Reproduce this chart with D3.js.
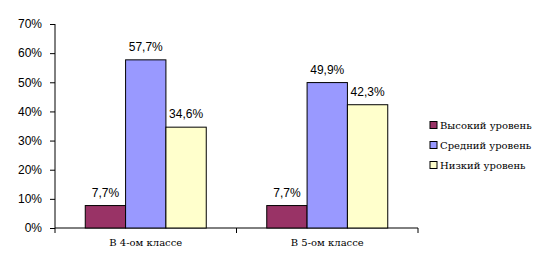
<!DOCTYPE html>
<html>
<head>
<meta charset="utf-8">
<script src="https://cdn.jsdelivr.net/npm/d3@7"></script>
<style>
  body { margin: 0; background: #fff; }
  svg { display: block; }
</style>
</head>
<body>
<svg id="main"></svg>
<script>
const width = 558
const height = 270

const categories = ['В 4-ом классе', 'В 5-ом классе']
const series = ['Высокий уровень', 'Средний уровень', 'Низкий уровень']
const values = [
  [7.7, 57.7, 34.6],
  [7.7, 49.9, 42.3]
]
const labels = [
  ['7,7%', '57,7%', '34,6%'],
  ['7,7%', '49,9%', '42,3%']
]
const yTicks = [0, 10, 20, 30, 40, 50, 60, 70]
const colors = ['#993366', '#9999ff', '#ffffcc']

const sans = 'Liberation Sans'
const serif = 'DejaVu Serif'

const svg = d3.select('#main').attr('width', width).attr('height', height)

const x0 = d3.scaleBand().domain(categories).range([55, 418])
const x1 = d3.scaleBand().domain(series).range([0, x0.bandwidth()]).paddingOuter(0.75)
const y = d3.scaleLinear().domain([0, 70]).range([228, 24])

// y axis
const yAxis = svg.append('g')
  .attr('transform', 'translate(55,0)')
  .call(d3.axisLeft(y).tickValues(yTicks).tickFormat(d => d + '%').tickSize(5).tickPadding(8))
  .attr('font-family', sans)
  .attr('font-size', 12)
yAxis.select('.domain').attr('d', `M0,${y(70)}V${y(0)}`).attr('stroke', '#000')
yAxis.selectAll('.tick line').attr('stroke', '#000')
yAxis.selectAll('text').attr('fill', '#000')

// x axis
const xAxis = svg.append('g').attr('transform', `translate(0,${y(0)})`)
xAxis.append('line').attr('x1', 55).attr('x2', 418).attr('stroke', '#000')
const xTickPos = [55].concat(categories.map(c => x0(c) + x0.bandwidth()))
xAxis.selectAll('.xt').data(xTickPos).join('line')
  .attr('x1', d => d).attr('x2', d => d).attr('y1', 0).attr('y2', 5).attr('stroke', '#000')
xAxis.selectAll('.cl').data(categories).join('text')
  .attr('font-family', serif)
  .attr('font-size', 10)
  .attr('x', d => x0(d) + x0.bandwidth() / 2)
  .attr('y', 18)
  .attr('text-anchor', 'middle')
  .text(d => d)

// bars
categories.forEach((cat, ci) => {
  const g = svg.append('g').attr('transform', `translate(${x0(cat)},0)`)
  series.forEach((s, si) => {
    const v = values[ci][si]
    g.append('rect')
      .attr('x', x1(s))
      .attr('y', y(v))
      .attr('width', x1.bandwidth())
      .attr('height', y(0) - y(v))
      .attr('fill', colors[si])
      .attr('stroke', '#000')
      .attr('stroke-width', 1)
    g.append('text')
      .attr('font-family', sans)
      .attr('font-size', 12)
      .attr('x', x1(s) + x1.bandwidth() / 2)
      .attr('y', y(v) - 9)
      .attr('text-anchor', 'middle')
      .text(labels[ci][si])
  })
})

// legend
const legend = svg.append('g').attr('transform', 'translate(430,125)')
series.forEach((s, i) => {
  const item = legend.append('g').attr('transform', `translate(0,${i * 20})`)
  item.append('rect')
    .attr('x', 0).attr('y', -3.5).attr('width', 7).attr('height', 7)
    .attr('fill', colors[i]).attr('stroke', '#000')
  item.append('text')
    .attr('font-family', serif)
    .attr('font-size', 10)
    .attr('x', 10).attr('y', 4)
    .text(s)
})
</script>
</body>
</html>
